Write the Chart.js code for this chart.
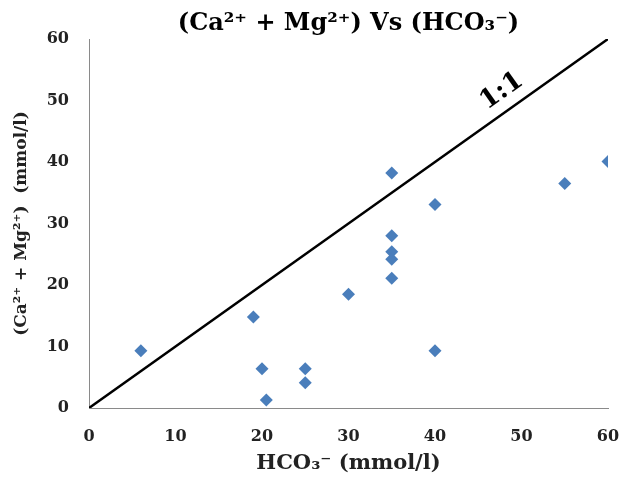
<!DOCTYPE html>
<html>
<head>
<meta charset="utf-8">
<script src="https://cdn.jsdelivr.net/npm/chart.js@4.4.1/dist/chart.umd.min.js"></script>
<style>
  html, body { margin: 0; padding: 0; background: #fff; }
  #wrap { width: 623px; height: 481px; }
</style>
</head>
<body>
<div id="wrap"><canvas id="c"></canvas></div>
<script>
// --- Du lieu doc tu hinh ---
const hco3 = [6, 19, 20, 20.5, 25, 25, 30, 35, 35, 35, 35, 35, 40, 40, 55, 60];
const caMg = [9.3, 14.8, 6.4, 1.3, 6.4, 4.1, 18.5, 38.2, 28.0, 25.4, 24.2, 21.1, 33.1, 9.3, 36.5, 40.1];
const lineX = [0, 60];
const lineY = [0, 60];
const axisMin = 0, axisMax = 60, axisStep = 10;

const titleText = '(Ca²⁺ + Mg²⁺) Vs (HCO₃⁻)';
const xTitle = 'HCO₃⁻ (mmol/l)';
const yTitle = '(Ca²⁺ + Mg²⁺)  (mmol/l)';
const ratioLabel = '1:1';

const SERIF = '"DejaVu Serif", "Liberation Serif", serif';

// plugin: tieu de + nhan 1:1
const annotate = {
    id: 'annotate',
    afterDraw(chart) {
        const ctx = chart.ctx;
        const area = chart.chartArea;
        const xs = chart.scales.x, ys = chart.scales.y;
        ctx.save();
        ctx.fillStyle = '#000';
        ctx.font = 'bold 24px ' + SERIF;
        ctx.textAlign = 'center';
        ctx.textBaseline = 'middle';
        ctx.fillText(titleText, (area.left + area.right) / 2, 24);

        // nhan 1:1 doc theo duong cheo
        const x0 = xs.getPixelForValue(lineX[0]), y0 = ys.getPixelForValue(lineY[0]);
        const x1 = xs.getPixelForValue(lineX[1]), y1 = ys.getPixelForValue(lineY[1]);
        const ang = Math.atan2(y1 - y0, x1 - x0);
        const px = xs.getPixelForValue(49), py = ys.getPixelForValue(49);
        ctx.translate(px, py);
        ctx.rotate(ang);
        ctx.font = 'bold 26px ' + SERIF;
        ctx.fillText(ratioLabel, 0, -19);
        ctx.restore();
    }
};

new Chart(document.getElementById('c'), {
    type: 'scatter',
    data: {
        datasets: [{
            label: 'diem',
            data: hco3.map((v, i) => ({ x: v, y: caMg[i] })),
            pointStyle: 'rectRot',
            pointRadius: 6.5,
            pointHoverRadius: 6.5,
            backgroundColor: '#4a7ebb',
            borderColor: '#4a7ebb',
            borderWidth: 0,
        }, {
            type: 'line',
            label: '1:1',
            data: lineX.map((v, i) => ({ x: v, y: lineY[i] })),
            borderColor: '#000',
            borderWidth: 2.5,
            pointRadius: 0,
            fill: false,
        }]
    },
    options: {
        responsive: true,
        maintainAspectRatio: false,
        animation: false,
        layout: { padding: { top: 39, right: 15, bottom: 0, left: 0 } },
        plugins: {
            legend: { display: false },
            tooltip: { enabled: false },
        },
        scales: {
            x: {
                type: 'linear',
                min: axisMin, max: axisMax,
                ticks: { stepSize: axisStep, padding: 11, color: '#222', font: { family: SERIF, size: 16, weight: 'bold' } },
                grid: { display: false },
                border: { color: '#8a8a8a', width: 1 },
                title: { display: true, text: xTitle, color: '#222', font: { family: SERIF, size: 21, weight: 'bold' }, padding: { top: 0, bottom: 5 } },
                afterFit(scale) {
                    scale.height = 73;
                    scale.paddingLeft = 0;
                    scale.paddingRight = 0;
                }
            },
            y: {
                type: 'linear',
                min: axisMin, max: axisMax,
                ticks: { stepSize: axisStep, padding: 12, color: '#222', font: { family: SERIF, size: 16, weight: 'bold' } },
                grid: { display: false },
                border: { color: '#8a8a8a', width: 1 },
                title: { display: true, text: yTitle, color: '#222', font: { family: SERIF, size: 17, weight: 'bold' }, padding: { top: 11, bottom: 4 } },
                afterFit(scale) { scale.width = 89; }
            }
        }
    },
    plugins: [annotate]
});
</script>
</body>
</html>
